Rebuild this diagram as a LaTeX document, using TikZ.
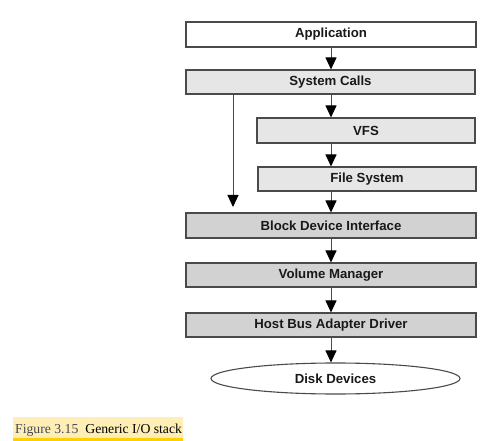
\documentclass[tikz,border=0pt]{standalone}
\usepackage{fontspec}
\setmainfont{Liberation Sans}
\newfontfamily\capfont{Liberation Serif}
\usetikzlibrary{arrows.meta,shapes.geometric}
\definecolor{boxline}{HTML}{4A4A4A}
\definecolor{lightfill}{HTML}{E6E6E6}
\definecolor{darkfill}{HTML}{D2D2D2}
\definecolor{capbg}{HTML}{FFEEB5}
\definecolor{capbar}{HTML}{FFCF00}
\definecolor{capgrey}{HTML}{484856}
\begin{document}
\begin{tikzpicture}[x=1pt,y=-1pt,
  layer/.style={draw=boxline,line width=1.1pt,rectangle,inner sep=0pt,
    font=\fontsize{13.2}{15}\selectfont\bfseries,text=black!90},
  whitebox/.style={layer,fill=white},
  lightbox/.style={layer,fill=lightfill},
  darkbox/.style={layer,fill=darkfill},
  arr/.style={draw=boxline,line width=1pt,-{Triangle[length=12pt,width=11pt,fill=black,color=black]}}]
\useasboundingbox (0,0) rectangle (485,441);
\coordinate (axis) at (331,0);
\node[whitebox,minimum width=290pt,minimum height=25pt] (app) at (331,34.5) {\raisebox{-0.8pt}{Application}};
\node[lightbox,minimum width=289pt,minimum height=24pt] (sys) at (330.5,82) {\raisebox{-0.8pt}{System Calls}};
\node[lightbox,minimum width=218pt,minimum height=25pt] (vfs) at (366,130.5) {\raisebox{-0.8pt}{VFS}};
\node[lightbox,minimum width=218pt,minimum height=24pt] (fs) at (367,179) {\raisebox{-0.8pt}{File System}};
\node[darkbox,minimum width=290pt,minimum height=25pt] (bdi) at (331,225.5) {\raisebox{-0.8pt}{Block Device Interface}};
\node[darkbox,minimum width=290pt,minimum height=24pt] (vm) at (331,275) {\raisebox{-0.8pt}{Volume Manager}};
\node[darkbox,minimum width=290pt,minimum height=24pt] (hba) at (331,325) {\raisebox{-0.8pt}{Host Bus Adapter Driver}};
\node[draw=boxline,line width=1.1pt,ellipse,fill=white,inner sep=0pt,minimum width=249pt,minimum height=31pt,
  font=\fontsize{13.2}{15}\selectfont\bfseries,text=black!90] (disk) at (335.5,378.5) {\raisebox{-0.8pt}{Disk Devices}};
\draw[arr] (app.south -| axis) -- (sys.north -| axis);
\draw[arr] (sys.south -| axis) -- (vfs.north -| axis);
\draw[arr] (vfs.south -| axis) -- (fs.north -| axis);
\draw[arr] (fs.south -| axis) -- (bdi.north -| axis);
\draw[arr] (bdi.south -| axis) -- (vm.north -| axis);
\draw[arr] (vm.south -| axis) -- (hba.north -| axis);
\draw[arr] (hba.south -| axis) -- (disk.north -| axis);
\coordinate (leftx) at (233,0);
\coordinate (leftend) at (233,207);
\draw[arr] (sys.south -| leftx) -- (leftend);
% caption
\fill[capbg] (13,417) rectangle (183,437.5);
\fill[capbar] (13,437.5) rectangle (183,440.5);
\node[anchor=base west,inner sep=0pt,font=\capfont\fontsize{13.7}{15}\selectfont] (cap) at (15,433)
  {\textcolor{capgrey}{Figure 3.15}\hspace{7pt}\textcolor{black}{Generic I/O stack}};
\end{tikzpicture}
\end{document}
